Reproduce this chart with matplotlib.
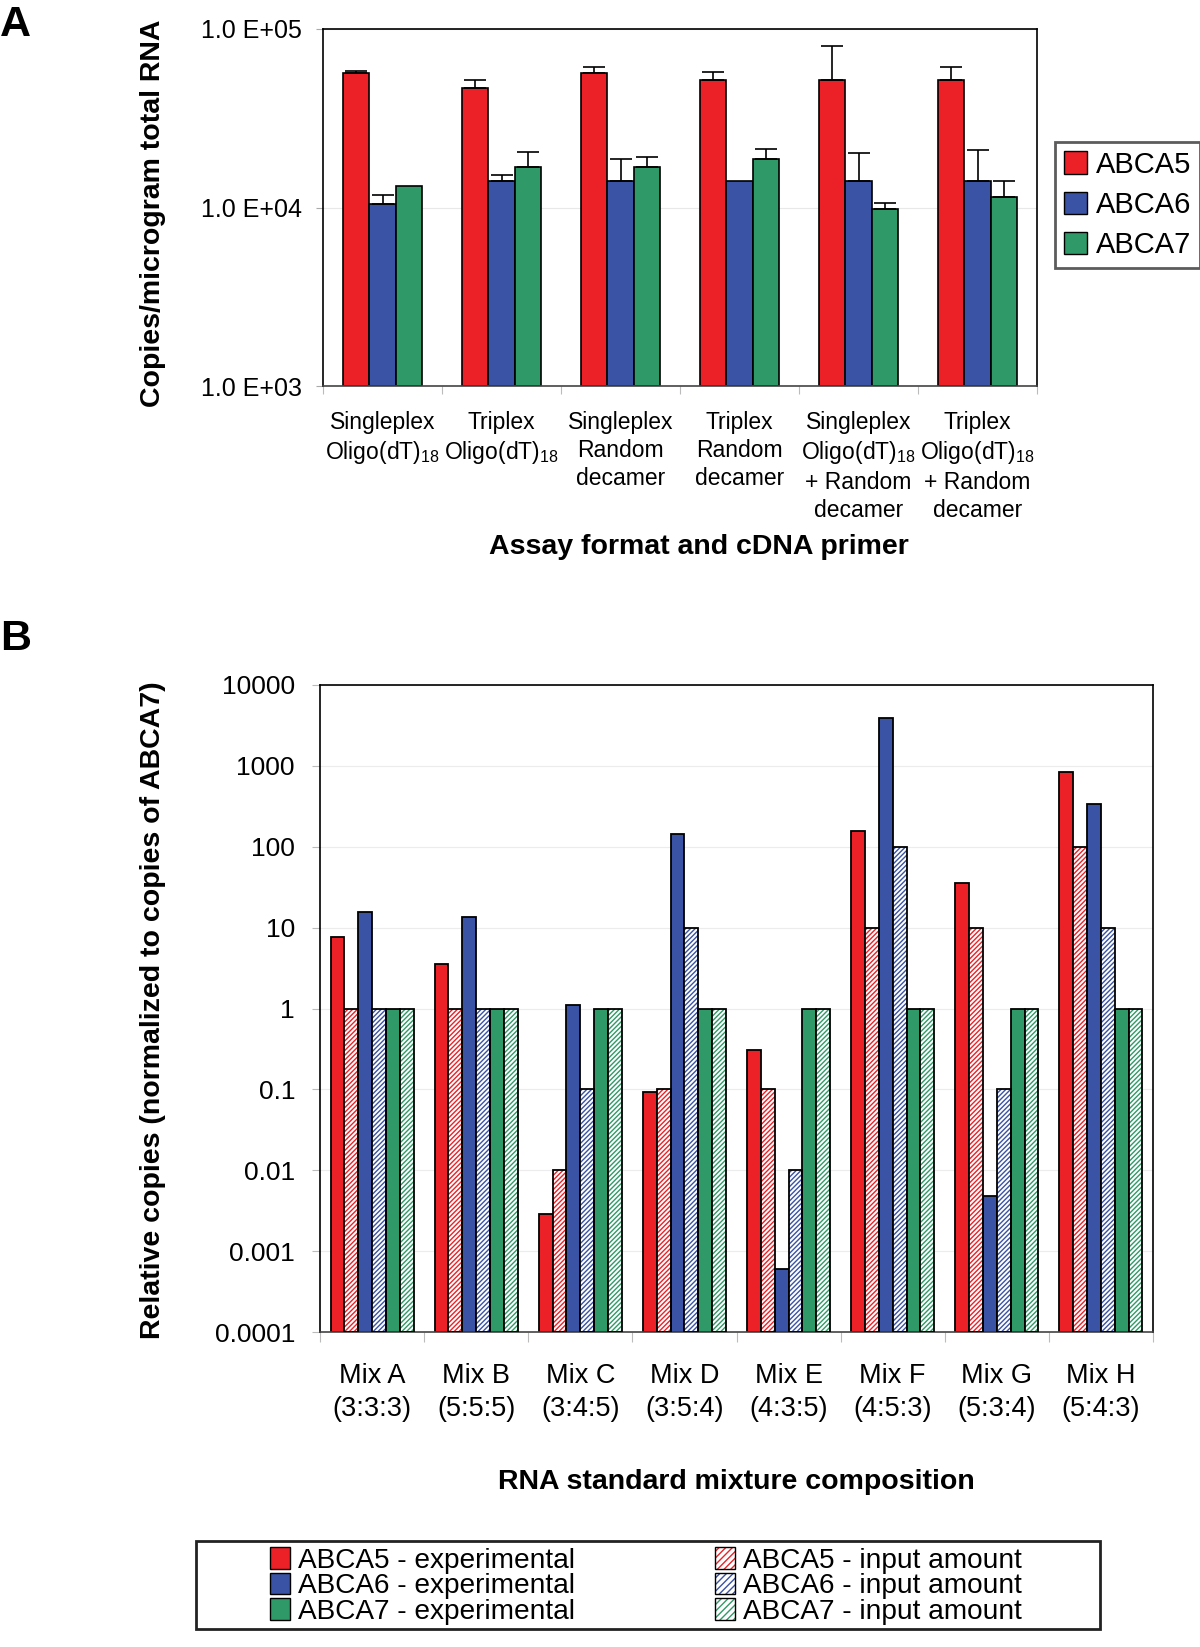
from matplotlib import pyplot as plt
from matplotlib.patches import Patch, Rectangle
from matplotlib.ticker import FixedLocator, FixedFormatter, NullLocator
import numpy as np

plt.rcParams['font.family'] = ['Liberation Sans', 'DejaVu Sans']
plt.rcParams['mathtext.fontset'] = 'custom'
plt.rcParams['mathtext.rm'] = 'Liberation Sans'
plt.rcParams['mathtext.it'] = 'Liberation Sans:italic'
plt.rcParams['mathtext.bf'] = 'Liberation Sans:bold'
plt.rcParams['hatch.linewidth'] = 1.0

# ---- panel A data ----
formats = ['Singleplex\nOligo(dT)$_{18}$', 'Triplex\nOligo(dT)$_{18}$',
           'Singleplex\nRandom\ndecamer', 'Triplex\nRandom\ndecamer',
           'Singleplex\nOligo(dT)$_{18}$\n+ Random\ndecamer',
           'Triplex\nOligo(dT)$_{18}$\n+ Random\ndecamer']
genes = ['ABCA5', 'ABCA6', 'ABCA7']
abca5 = [57000, 47000, 56400, 52000, 52000, 52000]
abca6 = [10400, 14000, 14000, 14000, 14000, 14000]
abca7 = [13200, 16900, 16900, 18600, 9850, 11500]
# top of error bar (None = no bar)
abca5_err = [58000, 51800, 61000, 57100, 80700, 61000]
abca6_err = [11800, 15200, 18600, None, 20100, 20900]
abca7_err = [None, 20500, 19300, 21300, 10600, 14000]

# ---- panel B data ----
mixes = ['Mix A\n(3:3:3)', 'Mix B\n(5:5:5)', 'Mix C\n(3:4:5)', 'Mix D\n(3:5:4)',
         'Mix E\n(4:3:5)', 'Mix F\n(4:5:3)', 'Mix G\n(5:3:4)', 'Mix H\n(5:4:3)']
a5_exp = [7.7, 3.6, 0.0029, 0.094, 0.31, 157, 36, 850]
a5_in = [1, 1, 0.01, 0.1, 0.1, 10, 10, 100]
a6_exp = [15.7, 13.5, 1.1, 144, 0.0006, 3900, 0.0048, 340]
a6_in = [1, 1, 0.1, 10, 0.01, 100, 0.1, 10]
a7_exp = [1, 1, 1, 1, 1, 1, 1, 1]
a7_in = [1, 1, 1, 1, 1, 1, 1, 1]

red = '#ec2027'
blue = '#3a53a4'
green = '#2f9a67'
cols = [red, blue, green]

W, H = 1200, 1647
fig = plt.figure(figsize=(12, 16.47), dpi=100)

def fx(px):
    return px / W
def fy(py):
    return 1 - py / H

# ================= panel A =================
axA = fig.add_axes([fx(323), fy(386), fx(1037 - 323), (386 - 29) / H])
lo = 1e3
x = np.arange(len(formats))
bw = 0.22
vals = [abca5, abca6, abca7]
errs = [abca5_err, abca6_err, abca7_err]
for i in range(3):
    xi = x + (i - 1) * bw
    v = np.array(vals[i], float)
    axA.bar(xi, v - lo, bottom=lo, width=bw, color=cols[i], edgecolor='black',
            linewidth=1.2, zorder=2)
    for j in range(len(xi)):
        if errs[i][j] is None:
            continue
        axA.errorbar(xi[j], v[j], yerr=[[0], [errs[i][j] - v[j]]], fmt='none',
                     ecolor='black', elinewidth=1.2, capsize=8, capthick=1.2, zorder=3)
axA.set_yscale('log')
axA.set_ylim(1e3, 1e5)
axA.set_xlim(-0.5, 5.5)
axA.yaxis.set_major_locator(FixedLocator([1e3, 1e4, 1e5]))
axA.yaxis.set_major_formatter(FixedFormatter(['1.0 E+03', '1.0 E+04', '1.0 E+05']))
axA.yaxis.set_minor_locator(NullLocator())
axA.yaxis.grid(True, color='#e8e8e8', linewidth=0.8)
axA.set_axisbelow(True)
axA.tick_params(axis='y', labelsize=18, length=5, color='#aaaaaa', pad=10)
axA.set_xticks(np.arange(-0.5, 6, 1))
axA.set_xticklabels([])
axA.set_xticks(x, minor=True)
axA.set_xticklabels(formats, minor=True, fontsize=16.5, linespacing=1.27)
axA.tick_params(axis='x', which='major', length=6, color='#bbbbbb')
axA.tick_params(axis='x', which='minor', length=0, pad=18)
for s in axA.spines.values():
    s.set_linewidth(1.2)
axA.spines['bottom'].set_color('#444444')

axA.legend(handles=[Patch(facecolor=c, edgecolor='black', linewidth=1.0) for c in cols],
           labels=genes, loc='upper left', bbox_to_anchor=(fx(1055), fy(142)),
           bbox_transform=fig.transFigure, fontsize=21, frameon=True, fancybox=False,
           edgecolor='#333333', handlelength=0.8, handleheight=0.8, handletextpad=0.3,
           labelspacing=0.42, borderpad=0.3, borderaxespad=0).get_frame().set_linewidth(2)

fig.text(fx(153), fy(213), 'Copies/microgram total RNA', rotation=90, ha='center',
         va='center', fontsize=20.5, fontweight='bold')
fig.text(fx(699), fy(547), 'Assay format and cDNA primer', ha='center', va='center',
         fontsize=20.5, fontweight='bold')
fig.text(0, fy(25), 'A', ha='left', va='center', fontsize=31, fontweight='bold')

# ================= panel B =================
axB = fig.add_axes([fx(320), fy(1332), fx(1153 - 320), (1332 - 685) / H])
lo = 1e-4
x = np.arange(len(mixes))
bw = 0.133
series = [a5_exp, a5_in, a6_exp, a6_in, a7_exp, a7_in]
for i in range(6):
    xi = x + (i - 2.5) * bw
    v = np.array(series[i], float)
    c = cols[i // 2]
    if i % 2 == 0:
        axB.bar(xi, v - lo, bottom=lo, width=bw, color=c, edgecolor='black',
                linewidth=1.3, zorder=2)
    else:
        axB.bar(xi, v - lo, bottom=lo, width=bw, color='white', edgecolor=c,
                hatch='///////', linewidth=0, zorder=2)
        axB.bar(xi, v - lo, bottom=lo, width=bw, fill=False, edgecolor='black',
                linewidth=1.3, zorder=3)
axB.set_yscale('log')
axB.set_ylim(1e-4, 1e4)
axB.set_xlim(-0.5, 7.5)
yt = [1e-4, 1e-3, 1e-2, 1e-1, 1, 10, 100, 1000, 10000]
axB.yaxis.set_major_locator(FixedLocator(yt))
axB.yaxis.set_major_formatter(FixedFormatter(['0.0001', '0.001', '0.01', '0.1', '1', '10',
                                              '100', '1000', '10000']))
axB.yaxis.set_minor_locator(NullLocator())
axB.yaxis.grid(True, color='#ececec', linewidth=0.8)
axB.set_axisbelow(True)
axB.tick_params(axis='y', labelsize=19, length=6, color='#bbbbbb', pad=12)
axB.set_xticks(np.arange(-0.5, 8, 1))
axB.set_xticklabels([])
axB.set_xticks(x, minor=True)
axB.set_xticklabels(mixes, minor=True, fontsize=19.5, linespacing=1.35)
axB.tick_params(axis='x', which='major', length=7, color='#bbbbbb')
axB.tick_params(axis='x', which='minor', length=0, pad=22)
for s in axB.spines.values():
    s.set_linewidth(1.2)
axB.spines['bottom'].set_color('#444444')

fig.text(fx(153), fy(1010), 'Relative copies (normalized to copies of ABCA7)', rotation=90,
         ha='center', va='center', fontsize=20.5, fontweight='bold')
fig.text(fx(736), fy(1482), 'RNA standard mixture composition', ha='center', va='center',
         fontsize=20.5, fontweight='bold')
fig.text(0, fy(639), 'B', ha='left', va='center', fontsize=31, fontweight='bold')

# legend B with a separate frame
fig.patches.append(Rectangle((fx(196), fy(1629)), fx(1100 - 196), (1629 - 1541) / H,
                             transform=fig.transFigure, fill=False, edgecolor='#222222',
                             linewidth=2))
hB = [Patch(facecolor=c, edgecolor='black', linewidth=1.0) for c in cols]
hB += [(Patch(facecolor='white', edgecolor=c, hatch='/////', linewidth=0),
        Patch(fill=False, edgecolor='black', linewidth=1.0)) for c in cols]
labB = ['ABCA5 - experimental', 'ABCA6 - experimental', 'ABCA7 - experimental',
        'ABCA5 - input amount', 'ABCA6 - input amount', 'ABCA7 - input amount']
fig.legend(handles=hB, labels=labB, ncol=2, loc='center', bbox_to_anchor=(fx(646), fy(1586)),
           fontsize=20.2, frameon=False, handlelength=0.7, handleheight=0.8,
           handletextpad=0.3, labelspacing=-0.03, columnspacing=5.0, borderpad=0)

fig.savefig('out.png', dpi=100)
